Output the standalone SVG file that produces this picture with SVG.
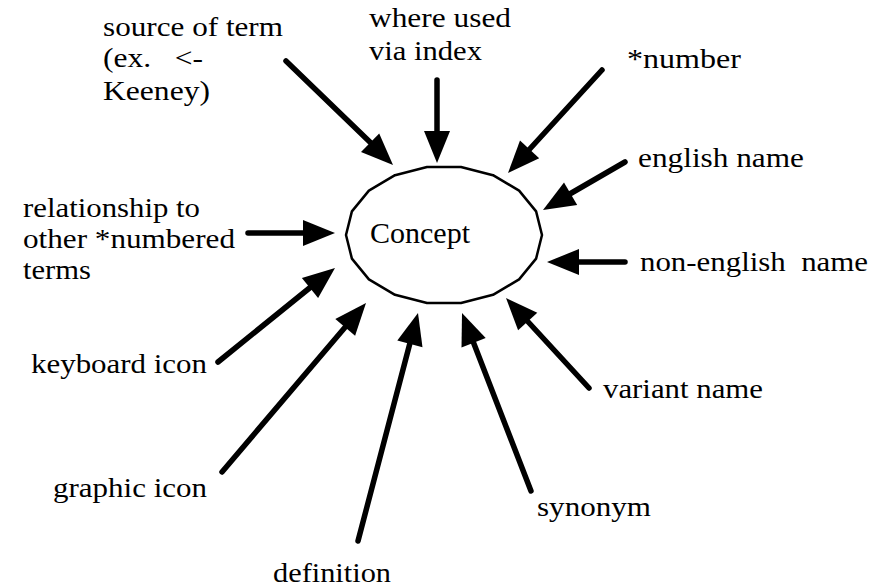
<svg xmlns="http://www.w3.org/2000/svg" width="878" height="587" viewBox="0 0 878 587">
<rect width="878" height="587" fill="#fff"/>
<g id="concept">
<polygon points="542,235 536.1,211.4 519.1,190.6 493,175.2 461,167 427,167 395,175.2 368.9,190.6 351.9,211.4 346,235 351.9,258.6 368.9,279.4 395,294.8 427,303 461,303 493,294.8 519.1,279.4 536.1,258.6" fill="#fff" stroke="#000" stroke-width="2.5" stroke-linejoin="round"/>
<text font-family="Liberation Serif" font-size="30" x="370" y="243" textLength="100" lengthAdjust="spacingAndGlyphs">Concept</text>
</g>
<g id="connectors">
<g stroke="#000" stroke-width="5.5" stroke-linecap="round" fill="none">
<line x1="286" y1="61" x2="373" y2="145"/>
<line x1="437" y1="80" x2="437" y2="134"/>
<line x1="602" y1="70" x2="527" y2="152"/>
<line x1="625" y1="162" x2="568" y2="195"/>
<line x1="625" y1="262" x2="576" y2="262"/>
<line x1="248" y1="233" x2="306" y2="233"/>
<line x1="218" y1="362" x2="312" y2="286"/>
<line x1="222" y1="472" x2="347" y2="325"/>
<line x1="358" y1="541" x2="410.5" y2="341"/>
<line x1="531" y1="491" x2="472.5" y2="340"/>
<line x1="589" y1="388" x2="525.5" y2="319"/>
</g>
<g fill="#000">
<polygon points="393,165 361,152 379.2,133.4"/>
<polygon points="437,163 424,131 450,131"/>
<polygon points="508,173 520,140.6 539.2,158.2"/>
<polygon points="543,210 564,182.6 577.2,205"/>
<polygon points="547,262 579,249 579,275"/>
<polygon points="335,233 303,220 303,246"/>
<polygon points="335,268 318.1,298.1 301.9,277.9"/>
<polygon points="366,303 355.1,335.8 335.3,319"/>
<polygon points="418,313 422.5,347.2 397.3,340.6"/>
<polygon points="462,313 485.7,338.1 461.5,347.5"/>
<polygon points="506,298 537.3,312.7 518.1,330.3"/>
</g>
</g>
<g id="source">
<text font-family="Liberation Serif" font-size="28" x="103" y="36" textLength="180" lengthAdjust="spacingAndGlyphs">source of term</text>
<text font-family="Liberation Serif" font-size="28" x="103" y="67" textLength="100" lengthAdjust="spacingAndGlyphs" xml:space="preserve">(ex.   &lt;-</text>
<text font-family="Liberation Serif" font-size="28" x="103" y="100" textLength="107" lengthAdjust="spacingAndGlyphs">Keeney)</text>
</g>
<g id="where-used">
<text font-family="Liberation Serif" font-size="28" x="369" y="27" textLength="142" lengthAdjust="spacingAndGlyphs">where used</text>
<text font-family="Liberation Serif" font-size="28" x="369" y="60" textLength="113" lengthAdjust="spacingAndGlyphs">via index</text>
</g>
<g id="number">
<text font-family="Liberation Serif" font-size="28" x="627" y="68" textLength="114" lengthAdjust="spacingAndGlyphs">*number</text>
</g>
<g id="english-name">
<text font-family="Liberation Serif" font-size="28" x="638" y="167" textLength="166" lengthAdjust="spacingAndGlyphs">english name</text>
</g>
<g id="non-english-name">
<text font-family="Liberation Serif" font-size="28" x="640" y="271" textLength="228" lengthAdjust="spacingAndGlyphs" xml:space="preserve">non-english  name</text>
</g>
<g id="relationship">
<text font-family="Liberation Serif" font-size="28" x="23" y="217" textLength="177" lengthAdjust="spacingAndGlyphs">relationship to</text>
<text font-family="Liberation Serif" font-size="28" x="23" y="248" textLength="212" lengthAdjust="spacingAndGlyphs">other *numbered</text>
<text font-family="Liberation Serif" font-size="28" x="23" y="279" textLength="68" lengthAdjust="spacingAndGlyphs">terms</text>
</g>
<g id="keyboard-icon">
<text font-family="Liberation Serif" font-size="28" x="31" y="373" textLength="176" lengthAdjust="spacingAndGlyphs">keyboard icon</text>
</g>
<g id="graphic-icon">
<text font-family="Liberation Serif" font-size="28" x="53" y="497" textLength="154" lengthAdjust="spacingAndGlyphs">graphic icon</text>
</g>
<g id="definition">
<text font-family="Liberation Serif" font-size="28" x="273" y="582" textLength="118" lengthAdjust="spacingAndGlyphs">definition</text>
</g>
<g id="synonym">
<text font-family="Liberation Serif" font-size="28" x="537" y="516" textLength="114" lengthAdjust="spacingAndGlyphs">synonym</text>
</g>
<g id="variant-name">
<text font-family="Liberation Serif" font-size="28" x="603" y="398" textLength="160" lengthAdjust="spacingAndGlyphs">variant name</text>
</g>
</svg>
